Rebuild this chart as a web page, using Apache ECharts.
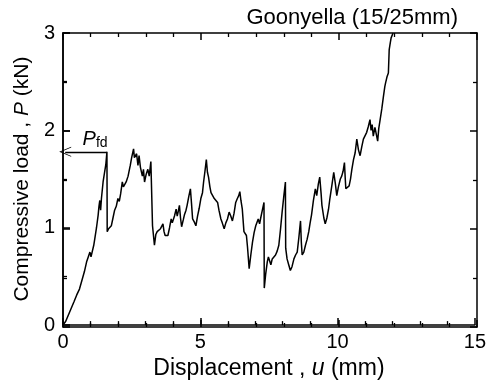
<!DOCTYPE html>
<html><head><meta charset="utf-8">
<script src="https://cdn.jsdelivr.net/npm/echarts@6/dist/echarts.min.js"></script>
<style>html,body{margin:0;padding:0;background:#fff}#c{width:489px;height:385px}</style>
</head><body><div id="c"></div>
<script>
const titleText = 'Goonyella (15/25mm)';
const xTicks = [0, 5, 10, 15];
const yTicks = [0, 1, 2, 3];
const pfdX = 1.60;
const pfdY = 1.78;
const dispU = [0,0.1,0.25,0.4,0.5,0.6,0.68,0.78,0.86,0.92,0.98,1.02,1.06,1.12,1.16,1.22,1.28,1.31,1.34,1.37,1.40,1.46,1.52,1.56,1.60,1.61,1.66,1.72,1.76,1.82,1.88,1.94,2.00,2.05,2.10,2.16,2.20,2.25,2.30,2.37,2.42,2.45,2.50,2.57,2.60,2.64,2.68,2.73,2.77,2.82,2.89,2.93,2.97,3.03,3.09,3.14,3.20,3.24,3.26,3.33,3.38,3.43,3.50,3.55,3.60,3.64,3.68,3.72,3.78,3.82,3.88,3.94,3.98,4.02,4.06,4.12,4.16,4.20,4.24,4.28,4.32,4.38,4.42,4.48,4.52,4.58,4.64,4.68,4.72,4.78,4.84,4.90,4.96,5.02,5.08,5.12,5.17,5.22,5.26,5.30,5.35,5.39,5.45,5.51,5.57,5.63,5.68,5.75,5.80,5.87,5.93,5.99,6.05,6.11,6.17,6.23,6.29,6.35,6.40,6.44,6.48,6.53,6.59,6.64,6.68,6.72,6.78,6.84,6.90,6.96,7.02,7.06,7.11,7.16,7.20,7.26,7.32,7.33,7.38,7.44,7.48,7.52,7.57,7.62,7.68,7.74,7.80,7.86,7.92,7.98,8.04,8.10,8.11,8.16,8.22,8.28,8.34,8.41,8.47,8.53,8.59,8.65,8.68,8.71,8.77,8.83,8.89,8.95,9.00,9.05,9.12,9.19,9.24,9.30,9.35,9.40,9.43,9.50,9.55,9.61,9.67,9.72,9.80,9.86,9.92,9.97,10.03,10.10,10.15,10.20,10.25,10.28,10.30,10.36,10.42,10.47,10.52,10.58,10.64,10.70,10.76,10.82,10.88,10.94,11.00,11.06,11.12,11.18,11.22,11.26,11.30,11.36,11.42,11.46,11.50,11.55,11.61,11.67,11.72,11.75,11.80,11.85,11.88,11.92,11.95,12.02];
const loadP = [0,0.04,0.14,0.24,0.31,0.37,0.45,0.55,0.65,0.70,0.75,0.70,0.72,0.82,0.89,1.00,1.13,1.22,1.28,1.18,1.30,1.47,1.58,1.65,1.78,0.96,0.99,1.00,1.02,1.10,1.18,1.22,1.30,1.27,1.35,1.47,1.42,1.40,1.47,1.53,1.60,1.64,1.72,1.81,1.72,1.70,1.76,1.64,1.74,1.62,1.53,1.60,1.47,1.55,1.60,1.53,1.68,1.70,1.02,0.82,0.93,0.96,0.95,0.99,0.97,1.04,0.96,0.92,0.90,0.92,1.00,1.09,1.05,1.07,1.12,1.19,1.12,1.17,1.23,1.10,1.01,1.08,1.13,1.18,1.23,1.32,1.40,1.25,1.09,1.06,1.02,1.12,1.20,1.30,1.36,1.47,1.58,1.70,1.57,1.52,1.42,1.36,1.33,1.30,1.32,1.26,1.18,1.09,1.05,0.99,1.05,1.09,1.16,1.12,1.07,1.15,1.26,1.30,1.33,1.37,1.28,1.19,0.96,0.95,0.92,0.80,0.58,0.72,0.85,0.95,1.02,1.04,1.09,1.04,1.10,1.18,1.26,0.38,0.52,0.65,0.70,0.72,0.62,0.68,0.70,0.72,0.76,0.82,0.98,1.16,1.32,1.47,0.79,0.68,0.62,0.56,0.60,0.68,0.72,0.75,0.90,1.07,0.85,0.72,0.75,0.82,0.88,0.96,1.05,1.13,1.28,1.40,1.33,1.45,1.52,1.35,1.23,1.10,1.04,1.10,1.19,1.30,1.45,1.57,1.45,1.33,1.42,1.50,1.53,1.58,1.67,1.50,1.40,1.42,1.43,1.50,1.60,1.70,1.77,1.91,1.80,1.74,1.83,1.91,1.93,1.98,2.04,2.11,2.00,2.06,1.94,2.03,2.01,1.89,2.02,2.11,2.22,2.35,2.45,2.49,2.55,2.59,2.83,2.90,2.95,3.0];

const FONT = 'Liberation Sans, Arial, sans-serif';
const chart = echarts.init(document.getElementById('c'));
const gridRect = {left: 63, right: 12, top: 33, bottom: 58};
function xAx(pos, gi, showLabels) {
  const o = {
    type: 'value', gridIndex: gi, position: pos, min: xTicks[0], max: xTicks[xTicks.length-1], interval: 5,
    axisLine: {show: true, onZero: false, lineStyle: {color: '#000', width: 1.5}},
    axisTick: {show: true, inside: true, length: 7, lineStyle: {color: '#000', width: 1.5}},
    minorTick: {show: true, splitNumber: 5, length: 4, lineStyle: {color: '#000', width: 1.3}},
    splitLine: {show: false},
    axisLabel: {show: showLabels, margin: 7, color: '#000', fontSize: 20, fontFamily: FONT}
  };
  if (showLabels) {
    o.name = '{n|Displacement , }{i|u}{n| (mm)}';
    o.nameLocation = 'middle'; o.nameGap = 30;
    o.nameTextStyle = {rich: {n: {fontSize: 23, fontFamily: FONT, color: '#000'}, i: {fontSize: 23, fontFamily: FONT, fontStyle: 'italic', color: '#000'}}};
  }
  return o;
}
function yAx(pos, gi, showLabels) {
  const o = {
    type: 'value', gridIndex: gi, position: pos, min: yTicks[0], max: yTicks[yTicks.length-1], interval: 1,
    axisLine: {show: true, onZero: false, lineStyle: {color: '#000', width: 1.5}},
    axisTick: {show: true, inside: true, length: 7, lineStyle: {color: '#000', width: 1.5}},
    minorTick: {show: true, splitNumber: 2, length: 4, lineStyle: {color: '#000', width: 1.3}},
    splitLine: {show: false},
    axisLabel: {show: showLabels, margin: 8, color: '#000', fontSize: 20, fontFamily: FONT}
  };
  if (showLabels) {
    o.name = '{n|Compressive load , }{i|P}{n| (kN)}';
    o.nameLocation = 'middle'; o.nameGap = 29; o.nameRotate = 90;
    o.nameTextStyle = {rich: {n: {fontSize: 21, fontFamily: FONT, color: '#000'}, i: {fontSize: 21, fontFamily: FONT, fontStyle: 'italic', color: '#000'}}};
  }
  return o;
}
const pts = dispU.map((u, i) => [u, loadP[i]]);
const arrowPath = 'path://M0,0 L6,12 L5,12 L0,2.2 L-5,12 L-6,12 Z';
chart.setOption({
  animation: false,
  title: {text: titleText, right: 26, top: 2, textStyle: {fontSize: 22, fontWeight: 'normal', fontFamily: FONT, color: '#000'}},
  grid: [Object.assign({}, gridRect), Object.assign({}, gridRect)],
  xAxis: [xAx('bottom', 0, true), xAx('bottom', 1, false), xAx('top', 1, false)],
  yAxis: [yAx('left', 0, true), yAx('left', 1, false), yAx('right', 1, false)],
  series: [{
    type: 'line', data: pts, showSymbol: false, xAxisIndex: 0, yAxisIndex: 0,
    lineStyle: {color: '#000', width: 1.5},
    markLine: {
      silent: true, symbol: ['none', arrowPath], symbolSize: [10, 12],
      lineStyle: {color: '#000', width: 1.3, type: 'solid'},
      label: {show: true, position: 'middle', distance: 2, offset: [9, 0],
        formatter: '{p|P}{s|fd}',
        rich: {p: {fontSize: 20, fontStyle: 'italic', fontFamily: FONT, color: '#000'},
               s: {fontSize: 14, fontFamily: FONT, color: '#000', verticalAlign: 'bottom', padding: [6, 0, 0, 0]}}},
      data: [[{coord: [pfdX, pfdY]}, {coord: [0.08, pfdY]}]]
    }
  }]
});
</script></body></html>
